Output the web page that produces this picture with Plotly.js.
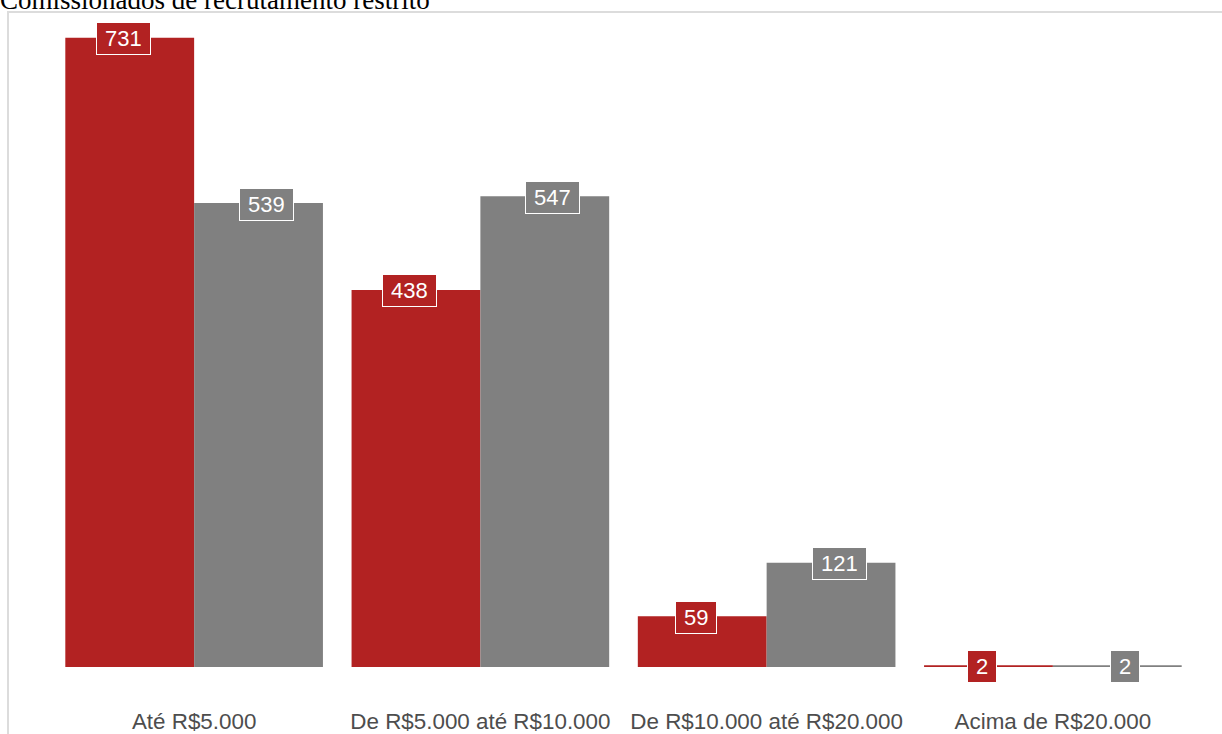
<!DOCTYPE html>
<html>
<head>
<meta charset="utf-8">
<script src="https://cdn.plot.ly/plotly-3.0.1.min.js"></script>
<style>
  html, body { margin: 0; padding: 0; background: #ffffff; }
  #frame { position: absolute; left: 7px; top: 11px; width: 1230px; height: 740px;
           border-left: 2px solid #dcdcdc; border-top: 2px solid #dcdcdc; }
  #chart { position: absolute; left: 0; top: 0; width: 1222px; height: 734px; }
</style>
</head>
<body>
<div id="frame"></div>
<div id="chart"></div>
<script>
const categories = ["Até R$5.000", "De R$5.000 até R$10.000", "De R$10.000 até R$20.000", "Acima de R$20.000"];
const seriesA = [731, 438, 59, 2];
const seriesB = [539, 547, 121, 2];
const colorA = "#B22222";
const colorB = "#808080";

const traces = [
  { type: "bar", x: categories, y: seriesA, marker: { color: colorA }, hoverinfo: "none" },
  { type: "bar", x: categories, y: seriesB, marker: { color: colorB }, hoverinfo: "none" }
];

const annotations = [];
[[seriesA, colorA, -0.225, -6.5], [seriesB, colorB, 0.225, 8]].forEach(function (s) {
  s[0].forEach(function (v, i) {
    annotations.push({
      x: i + s[2], y: v, xref: "x", yref: "y",
      text: String(v), showarrow: false,
      yanchor: "middle", xanchor: "center", yshift: -1, xshift: s[3],
      bgcolor: s[1], bordercolor: "#ffffff", borderwidth: 1, borderpad: 8,
      height: 15,
      font: { family: "Liberation Sans, Arial, sans-serif", size: 22, color: "#ffffff" }
    });
  });
});

const layout = {
  width: 1222, height: 734,
  margin: { l: 51, r: 26, t: 30, b: 67 },
  paper_bgcolor: "rgba(0,0,0,0)",
  plot_bgcolor: "rgba(0,0,0,0)",
  showlegend: false,
  barmode: "group",
  bargap: 0.1,
  bargroupgap: 0,
  title: {
    text: "Comissionados de recrutamento restrito",
    x: 0, xref: "container", xanchor: "left",
    y: 1, yref: "container", yanchor: "middle",
    font: { family: "Liberation Serif, Times New Roman, serif", size: 27, color: "#000000" }
  },
  xaxis: {
    type: "category", range: [-0.5, 3.5],
    showgrid: false, zeroline: false, showline: false,
    ticks: "outside", ticklen: 34, tickcolor: "rgba(0,0,0,0)",
    tickfont: { family: "Liberation Sans, Arial, sans-serif", size: 22.4, color: "#4d4d4d" }
  },
  yaxis: {
    range: [0, 740], visible: false, showgrid: false, zeroline: false
  },
  annotations: annotations
};

Plotly.newPlot("chart", traces, layout, { displayModeBar: false, staticPlot: true });
</script>
</body>
</html>
